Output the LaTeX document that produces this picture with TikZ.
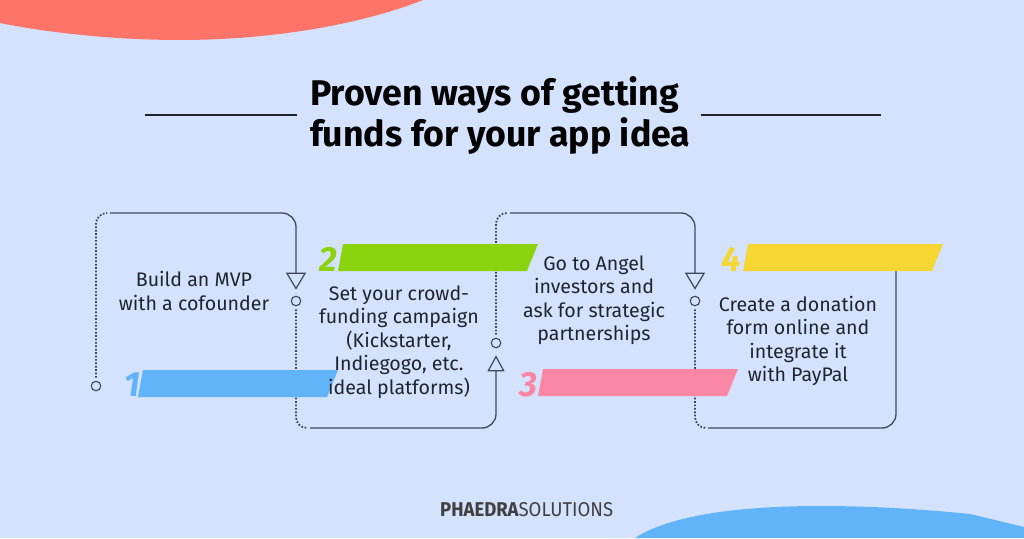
\documentclass[tikz,border=0pt]{standalone}
\usepackage{fontspec}
\setmainfont{Fira Sans}
\usetikzlibrary{arrows.meta}
\definecolor{pagebg}{HTML}{D4E2FE}
\definecolor{coral}{HTML}{FF7468}
\definecolor{skyblue}{HTML}{62B4F8}
\definecolor{limegreen}{HTML}{8CD30F}
\definecolor{rosepink}{HTML}{FB87A6}
\definecolor{sunyellow}{HTML}{F5D633}
\definecolor{linecol}{HTML}{3E4563}
\definecolor{inkcol}{HTML}{20242E}
\tikzstyle{stepvertex}=[circle,draw=linecol,line width=1.1pt,minimum size=9.5pt,inner sep=0pt]
\tikzstyle{solidedge} = [draw=linecol,line width=1.3pt,rounded corners=14pt]
\tikzstyle{arrowedge} = [solidedge,-{Triangle[open,length=17pt,width=20pt,line width=1.2pt]},shorten >=6pt]
\tikzstyle{arrowedgeup} = [solidedge,-{Triangle[open,length=16pt,width=17pt,line width=1.2pt]},shorten >=7pt]
\tikzstyle{dotedge} = [draw=linecol,line width=1.8pt,dash pattern=on 1.7pt off 1.7pt,rounded corners=11pt,shorten <=3pt,shorten >=1pt]
\tikzstyle{steptext} = [font=\fontsize{19.6}{23.5}\selectfont,text=inkcol,align=center,inner sep=0pt]
\tikzstyle{stepnum} = [font=\fontsize{35}{35}\selectfont\bfseries\itshape,inner sep=0pt]
\begin{document}
\begin{tikzpicture}[x=1pt,y=-1pt]
    \useasboundingbox (0,0) rectangle (1024,538);
    \fill[pagebg] (0,0) rectangle (1024,538);
    \fill[coral] (0,0) -- (0,23) .. controls (55,34) and (120,40) .. (180,40) .. controls (270,40) and (360,25) .. (423,0) -- cycle;
    \fill[skyblue] (635,538) .. controls (670,515) and (740,506) .. (820,506) .. controls (880,506) and (930,510) .. (970,514) -- (1024,527) -- (1024,538) -- cycle;

    \draw[line width=1.3pt,inkcol] (145,115) -- (297,115);
    \draw[line width=1.3pt,inkcol] (701,115) -- (881,115);
    \node[font=\fontsize{35.7}{41}\selectfont\bfseries,align=left,inner sep=0pt,anchor=west,text=black] (title) at (310,115) {Proven ways of getting\\funds for your app idea};

    % Circles at the ends of the connectors
    \foreach \pos/ \name in {{(96,386)/c1},{(296,301)/c2},{(496,343)/c3},{(695,301)/c4}}
        \node[stepvertex] (\name) at \pos {};

    \coordinate (d1) at (106,213);
    \coordinate (s1) at (110,213);
    \coordinate (d2) at (306,428);
    \coordinate (s2) at (310,428);
    \coordinate (d3) at (506,213);
    \coordinate (s3) at (510,213);
    \coordinate (d4) at (704,428);
    \coordinate (s4) at (708,428);
    \coordinate (e4) at (896,265);

    \draw[dotedge] (c1) |- (d1);
    \path[arrowedge] (s1) -| (c2);
    \draw[dotedge] (c2) |- (d2);
    \path[arrowedgeup] (s2) -| (c3);
    \draw[dotedge] (c3) |- (d3);
    \path[arrowedge] (s3) -| (c4);
    \draw[dotedge] (c4) |- (d4);
    \path[solidedge] (s4) -| (e4);

    % Bars with their numbers
    \foreach \px/ \py/ \col/ \name in {138/397/skyblue/b1, 338/271/limegreen/b2, 538/396/rosepink/b3, 743/271/sunyellow/b4}
        \fill[\col] (\px,\py) -- ++(5,-27) -- ++(195,0) -- ++(-11,27) -- cycle;
    \foreach \pos/ \col/ \name/ \num in {{(132,385)/skyblue/n1/1},{(328,259)/limegreen/n2/2},{(528,385)/rosepink/n3/3},{(731,259)/sunyellow/n4/4}}
        \node[stepnum,text=\col] (\name) at \pos {\num};

    \node[steptext] (t1) at (194,291) {Build an MVP\\with a cofounder};
    \node[steptext] (t2) at (399,342) {Set your crowd-\\funding campaign\\(Kickstarter,\\Indiegogo, etc.\\ideal platforms)};
    \node[steptext] (t3) at (594,300) {Go to Angel\\investors and\\ask for strategic\\partnerships};
    \node[steptext] (t4) at (798,341) {Create a donation\\form online and\\integrate it\\with PayPal};

    \node[inner sep=0pt,anchor=west,text=black!75] (logo) at (440,510) {\scalebox{0.925}[1]{\fontsize{20}{20}\selectfont\bfseries PHAEDRA\fontseries{l}\selectfont SOLUTIONS}};
\end{tikzpicture}
\end{document}
